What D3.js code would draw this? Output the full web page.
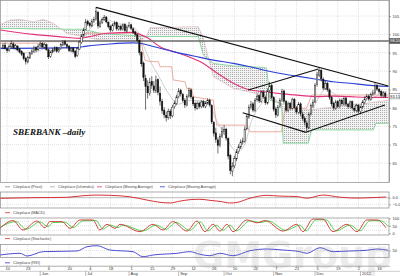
<!DOCTYPE html>
<html>
<head>
<meta charset="utf-8">
<script src="https://cdn.jsdelivr.net/npm/d3@7"></script>
<style>
body{margin:0;background:#fff;}
svg{display:block;font-family:"Liberation Sans",Arial,sans-serif;}
.axis text{font-size:4px;fill:#333;}
.axis line{stroke:#666;stroke-width:0.5;}
.grid{stroke:#c4c4c4;stroke-width:0.5;stroke-dasharray:1,1;}
.legend{font-size:3.8px;fill:#444;}
</style>
</head>
<body>
<script>

//svg size
var w = 400, h = 276;

//daily candles, one per trading day (index 0 = 10 May 2011)
var opens = [96.5,97.1,96.0,95.7,96.6,97.4,96.3,96.8,95.9,95.3,94.8,93.5,92.5,93.6,94.8,95.4,96.4,95.8,96.9,97.5,
96.5,97.2,95.8,94.0,95.2,95.7,96.4,95.3,96.1,97.1,98.0,97.2,96.8,95.5,96.3,95.4,94.2,96.0,97.8,99.8,
101.4,103.5,102.9,102.3,103.5,104.0,106.0,102.2,103.2,104.1,104.7,103.3,102.2,101.1,102.7,103.2,101.4,102.2,101.3,102.7,
100.9,102.1,102.6,101.5,100.7,99.9,98.3,95.0,92.2,88.0,85.9,83.9,87.2,86.0,84.6,87.7,84.0,81.7,79.4,78.0,
77.3,79.1,77.8,80.3,81.2,83.1,84.7,83.7,82.1,80.7,83.2,84.9,82.9,81.2,79.9,81.3,80.3,81.7,80.4,81.3,
82.1,80.6,76.0,73.2,71.3,69.9,72.3,73.5,74.2,71.6,67.0,62.8,64.2,66.1,68.1,69.3,70.7,70.9,74.3,77.5,
80.2,81.1,79.3,82.2,83.3,81.8,84.2,82.9,81.3,84.7,86.1,82.8,79.7,78.0,80.3,82.0,84.6,81.7,79.3,81.2,
79.9,82.3,80.0,78.8,81.1,78.3,77.2,75.9,74.5,78.3,80.5,81.6,86.3,88.9,90.2,87.8,85.3,86.7,84.9,82.8,
81.2,79.9,81.7,80.3,82.1,81.0,82.7,80.9,80.3,81.7,79.9,79.3,80.7,79.0,80.2,81.5,82.5,83.2,82.3,83.7,
84.0,86.1,85.0,84.5,83.3,84.0];
var highs = [97.6,97.8,96.5,97.3,98.3,97.9,97.4,97.1,96.3,95.7,95.1,93.9,94.2,95.3,96.0,96.9,96.8,97.4,98.1,97.9,
97.8,97.5,96.1,95.5,96.3,96.8,96.7,96.5,97.7,98.4,98.5,97.6,97.1,96.6,96.6,95.7,96.5,98.3,100.1,101.8,
104.2,104.0,103.4,104.2,104.8,107.4,106.4,103.8,104.6,105.3,105.0,103.6,102.5,103.0,103.7,103.5,102.6,102.6,103.0,103.1,
102.4,103.4,102.9,101.9,101.0,100.2,98.6,95.4,92.6,89.0,87.5,88.2,88.6,87.3,88.8,88.0,85.8,82.5,80.2,79.0,
79.8,79.7,80.8,82.0,83.6,85.4,85.2,84.1,82.6,83.7,85.5,85.2,83.3,81.7,81.8,81.7,82.1,82.2,81.8,82.6,
82.5,81.0,76.4,74.6,72.0,73.0,74.8,75.3,74.6,72.0,67.5,65.2,67.0,68.8,70.1,71.4,71.9,75.0,78.4,80.9,
81.9,81.6,82.7,83.9,83.7,84.8,84.9,83.3,85.3,87.1,86.5,83.2,80.2,80.8,82.7,85.2,85.0,82.2,81.7,81.6,
82.8,82.7,80.5,81.6,81.5,78.9,77.7,76.4,78.8,81.2,82.3,86.8,89.8,91.0,90.6,88.3,87.4,87.1,85.3,83.2,
81.7,82.2,82.1,82.5,82.6,83.1,83.0,81.4,82.0,82.0,80.4,81.1,81.0,80.6,82.1,83.1,83.8,83.7,84.2,84.9,
86.8,86.5,85.5,84.9,84.6,84.4];
var lows = [95.9,95.8,95.0,95.3,96.3,96.0,95.9,95.4,94.8,94.1,93.0,91.8,92.1,93.3,94.4,95.0,95.2,95.5,96.5,96.2,
96.1,95.5,93.3,93.6,94.8,95.3,95.0,95.0,95.8,96.8,96.9,96.2,95.2,95.1,94.8,93.5,93.9,95.7,97.5,99.4,
101.1,102.3,101.8,102.0,103.1,103.7,101.6,101.8,102.8,103.7,103.0,101.6,100.6,100.8,102.2,101.0,101.0,100.9,101.0,100.6,
100.5,101.7,101.1,100.1,99.4,97.8,94.3,91.2,87.3,79.5,82.5,83.3,85.2,84.0,84.0,83.4,80.6,78.4,77.2,76.3,
76.8,77.0,77.4,79.8,80.7,82.6,83.1,81.5,80.0,80.4,82.8,82.4,80.5,79.3,79.5,79.8,79.9,80.0,79.9,80.9,
80.3,75.6,72.2,70.5,67.6,69.3,71.8,72.7,71.1,66.0,61.9,61.4,63.6,65.5,67.5,68.8,70.0,70.5,73.9,77.0,
79.6,78.8,78.9,81.7,81.3,81.4,82.5,80.8,80.9,84.2,82.3,79.0,77.3,77.6,79.9,81.6,81.2,78.8,78.9,79.4,
79.5,79.6,78.3,78.4,77.8,76.5,75.2,73.4,74.2,77.9,80.0,81.3,85.8,88.3,87.2,84.8,84.9,84.4,82.2,80.4,
79.3,79.5,79.9,79.9,80.6,80.6,80.5,79.8,79.9,79.5,78.8,78.9,78.5,78.6,79.8,81.1,82.0,81.9,82.0,83.3,
83.6,84.6,83.8,82.9,82.8,82.7];
var closes = [97.0,96.2,95.6,96.8,97.5,96.4,96.9,95.8,95.2,94.6,93.4,92.6,93.8,94.9,95.5,96.3,95.7,96.8,97.4,96.6,
97.3,95.9,93.9,95.1,95.8,96.3,95.4,96.0,97.2,97.9,97.3,96.7,95.6,96.2,95.3,94.0,96.1,97.9,99.6,101.2,
103.4,102.8,102.4,103.6,104.1,106.2,102.3,103.1,104.0,104.6,103.4,102.1,101.2,102.6,103.1,101.5,102.1,101.4,102.6,101.0,
102.0,102.5,101.6,100.6,100.0,98.4,95.1,92.0,88.2,85.8,84.1,87.0,86.1,84.8,87.6,84.2,81.8,79.3,78.1,77.4,
79.0,77.9,80.2,81.3,83.0,84.6,83.8,82.0,80.8,83.1,84.8,83.0,81.1,80.0,81.2,80.4,81.6,80.5,81.2,82.0,
80.8,76.2,73.1,71.4,69.8,72.2,73.6,74.1,71.8,66.9,63.0,64.1,66.2,68.0,69.4,70.6,71.0,74.2,77.6,80.1,
81.0,79.4,82.1,83.2,81.9,84.1,83.0,81.4,84.6,86.0,82.9,79.6,78.1,80.2,82.1,84.5,81.8,79.4,81.1,80.0,
82.2,80.1,78.9,81.0,78.4,77.1,76.0,74.6,78.2,80.6,81.5,86.1,89.0,90.1,87.9,85.4,86.6,85.0,82.9,81.1,
80.0,81.6,80.4,82.0,81.1,82.6,81.0,80.4,81.6,80.0,79.4,80.6,79.1,80.1,81.6,82.4,83.1,82.4,83.6,84.1,
86.0,85.1,84.4,83.4,84.1,83.15];

//moving averages (read at a few days, smooth lines)
var blueMaDays = [-1.5,35.6,40.5,51.8,63.1,66.3,72.7,82.4,95.3,101.8,111.5,119.5,127.6,135.6,143.7,151.8,159.8,167.9,176,186.5];
var blueMaVals = [96.2,96.4,96.8,97.4,97.7,97.6,96.7,95.3,93.75,93.0,92.1,91.2,90.1,89.2,88.5,87.8,87.1,86.7,86.2,85.8];
var pinkMaDays = [-1.5,14.7,30.8,37.3,42.1,50.2,63.1,66.3,69.5,76,85.6,95.3,105,111.5,118.7,127.6,135.6,143.7,151.8,159.8,167.9,176,186.5];
var pinkMaVals = [101.2,100.0,99.2,98.9,99.4,100.3,100.55,100.0,99.2,96.65,94.8,92.6,88.95,86.7,85.0,84.3,83.8,83.4,83.05,83.2,83.05,82.85,82.85];

//ichimoku cloud spans
var cloudDays = [-1.5,3.4,8.2,14.7,19.5,24.4,30.8,38.9,46.9,66.3,69.5,71.1,94.5,96.9,101.8,111.5,126,127.6,129.2,134.8,135.6,147.7,149.4,160,176,179.2,180.5,186.5];
var spanA = [101.6,101.6,101.6,101.5,101.5,101.5,101.4,101.4,100.3,99.5,99.4,99.4,99.4,94.4,92.1,91.4,91.0,90.8,82.1,81.2,70.4,70.4,74.0,74.0,74.0,74.0,75.8,75.8];
var spanB = [102.6,103.9,104.1,103.4,104.1,103.0,100.3,99.4,98.5,98.0,99.5,101.8,102.1,99.0,88.5,85.3,83.5,83.3,83.0,80.5,80.3,79.5,79.4,80.3,81.2,81.5,81.6,82.1];
var kijunDays = [-1.5,20,21,38,39,63.1,66.3,68.7,71.1,75.2,76,81.6,82.4,88.1,88.9,91.3,92.1,101.8,103.4,117.9,119.5,134.8,136.5,146.9,149.4,186.5];
var kijunVals = [97.6,97.6,98.0,98.0,100.3,100.3,99.4,93.0,92.6,92.6,91.2,91.2,87.6,87.1,85.3,85.3,83.0,82.1,75.3,75.3,73.5,73.5,79.9,79.9,83.5,83.5];
var tenkanDays = [-1.5,5,10,15,20,25,30,35,40,45,50,55,60,65,68,71,75,80,85,90,95,100,103,106,110,113,117,120,125,130,135,140,145,148,152,156,160,165,170,175,180,186];
var tenkanVals = [96.5,96,95,95,96,95.5,96.5,95.5,100,103,104,103,102.5,101,97,93,89,84,81,82,82,81,77,74,70,68,70,76,81,83,81,81,79,78,82,85,84,81.5,81,81,83,84.5];

//trend lines: [day1, price1, day2, price2]
var trendLines = [[45,107.35,186.5,85.95],[118.7,84.85,152.6,90.57],[116,78.7,146.6,73.34],[146.6,73.34,184.8,80.78]];
var resistance = 98.2;

//lower panels
var macdDays = [-1.45,14.5,31,38.7,45.5,51.8,61.4,69.7,76,80.8,85.6,90.5,95.3,100.1,105,109.8,113.2,119.5,127.7,134,142.2,147.1,154.8,163,171.3,177.6,185.3];
var macdVals = [-0.5,0,0.3,1.5,2.0,1.8,0.7,-1.8,-3.5,-4,-2.6,-1.5,-1.2,-2,-2.8,-4,-3.6,-0.4,1.8,1.2,0.9,-0.4,2.0,0.4,-0.3,0,0.5];
var stochKDays = [-1.45,4.8,9.7,16.4,20.3,22.7,28.5,32.4,37.3,43.5,46.9,50.3,54.2,56.6,66.3,72.6,77.4,82.2,89,93.9,97.7,101.6,105,108.4,111.3,118,122.9,126.8,135.5,142.2,145.1,150,154.8,159.7,166.4,171.3,176.1,181,185.3];
var stochKVals = [33,85,22,82,37,78,78,33,89,89,22,60,33,60,11,60,22,78,15,82,11,60,15,60,11,89,70,85,15,60,11,95,95,11,60,11,89,89,37];
var stochDDays = [-1.45,6.3,11.2,17.9,21.8,24.2,30,33.9,38.8,45,48.4,51.8,55.7,58.1,67.8,74.1,78.9,83.7,90.5,95.4,99.2,103.1,106.5,109.9,112.8,119.5,124.4,128.3,137,143.7,146.6,151.5,156.3,161.2,167.9,172.8,177.6,182.5,186.5];
var stochDVals = [40,78,28,76,44,72,74,38,83,85,28,55,38,55,16,55,27,72,20,76,16,55,20,55,16,83,72,82,20,55,16,90,90,16,55,16,84,84,45];
var rsiDays = [-1.45,8.2,11.6,19.4,35.8,40.6,45.5,51.8,62.9,67.7,72.6,84.2,90.5,95.3,100.1,105,111.3,119.5,127.7,135.5,143.7,147.1,153.4,159.7,167.9,176.1,181,186.3];
var rsiVals = [30.7,38,26.4,45,47.9,66,70.6,52,45,23.4,30.7,38,45,33.7,27.7,38,27.7,49,56.4,52,45,38,62,45,47.9,51,56.4,51];

//date axis
var tickDays = [2,12,22,32,42,52,62,72,82,92,102,112,122,132,142,152,162,172,182];
var tickLabels = ["10","23","6","20","4","18","1","15","29","12","26","10","24","7","21","5","19","2","16"];
var monthDays = [18,40,61,85,107,131,151,173];
var monthLabels = ["Jun","Jul","Aug","Sep","Oct","Nov","Dec","2012"];

window.onload = function(){

    var svg = d3.select("body")
        .append("svg")
        .attr("width", w)
        .attr("height", h);

    var defs = svg.append("defs");

    //dotted fill for the cloud
    var pat = defs.append("pattern")
        .attr("id", "dots")
        .attr("width", 2)
        .attr("height", 2)
        .attr("patternUnits", "userSpaceOnUse");
    pat.append("rect").attr("width", 2).attr("height", 2).attr("fill", "#f3f3f3");
    pat.append("rect").attr("width", 0.9).attr("height", 0.9).attr("fill", "#9a9a9a");

    var plotR = 389;
    var x = d3.scaleLinear()
        .domain([-1.45, 186.8])
        .range([0, plotR]);

    //panels: top and bottom of each box
    var panels = {
        main: [0, 182.5],
        macd: [191.5, 208],
        stoch: [217.5, 235],
        rsi: [244, 257.5]
    };

    var y = d3.scaleLinear().domain([65, 105]).range([163, 16]);
    var yMacd = d3.scaleLinear().domain([0, -5]).range([197.7, 204.3]);
    var yStoch = d3.scaleLinear().domain([0, 100]).range([233.3, 218.3]);
    var yRsi = d3.scaleLinear().domain([20, 80]).range([257.5, 243.5]);

    //draws box, clip and vertical grid for a panel
    function makePanel(name){
        var p = panels[name];
        defs.append("clipPath").attr("id", "clip-" + name)
            .append("rect")
            .attr("x", 0).attr("y", p[0])
            .attr("width", plotR).attr("height", p[1] - p[0]);
        svg.append("g").selectAll("line")
            .data(tickDays)
            .enter()
            .append("line")
            .attr("class", "grid")
            .attr("x1", function(d){ return x(d); })
            .attr("x2", function(d){ return x(d); })
            .attr("y1", p[0])
            .attr("y2", p[1]);
        var g = svg.append("g").attr("clip-path", "url(#clip-" + name + ")");
        return g;
    }

    function frame(name){
        var p = panels[name];
        svg.append("rect")
            .attr("x", 0.5).attr("y", p[0] + 0.5)
            .attr("width", plotR - 0.5).attr("height", p[1] - p[0] - 0.5)
            .attr("fill", "none")
            .attr("stroke", "#8a8a8a")
            .attr("stroke-width", 0.7);
    }

    function knotLine(g, days, vals, yScale, color, width, curve){
        var pts = days.map(function(d, i){ return [d, vals[i]]; });
        g.append("path")
            .datum(pts)
            .attr("fill", "none")
            .attr("stroke", color)
            .attr("stroke-width", width)
            .attr("d", d3.line()
                .x(function(d){ return x(d[0]); })
                .y(function(d){ return yScale(d[1]); })
                .curve(curve));
    }

    //---------------- main panel ----------------
    var main = makePanel("main");

    //horizontal grid every 5
    main.selectAll(".hgrid")
        .data(d3.range(65, 106, 5))
        .enter()
        .append("line")
        .attr("class", "grid")
        .attr("x1", 0).attr("x2", plotR)
        .attr("y1", function(d){ return y(d); })
        .attr("y2", function(d){ return y(d); });

    //cloud
    var cloud = cloudDays.map(function(d, i){ return [d, spanA[i], spanB[i]]; });
    main.append("path")
        .datum(cloud)
        .attr("fill", "url(#dots)")
        .attr("d", d3.area()
            .x(function(d){ return x(d[0]); })
            .y0(function(d){ return y(d[1]); })
            .y1(function(d){ return y(d[2]); }));
    knotLine(main, cloudDays, spanA, y, "#6fd08a", 0.8, d3.curveLinear);
    knotLine(main, cloudDays, spanB, y, "#d8b0b0", 0.6, d3.curveLinear);
    knotLine(main, kijunDays, kijunVals, y, "#e58a78", 0.7, d3.curveLinear);
    knotLine(main, tenkanDays, tenkanVals, y, "#b0b0b0", 0.6, d3.curveMonotoneX);

    //moving averages
    knotLine(main, pinkMaDays, pinkMaVals, y, "#e3327c", 1.1, d3.curveMonotoneX);
    knotLine(main, blueMaDays, blueMaVals, y, "#2b3fd6", 1.1, d3.curveMonotoneX);

    //resistance line
    main.append("line")
        .attr("x1", 0).attr("x2", plotR)
        .attr("y1", y(resistance)).attr("y2", y(resistance))
        .attr("stroke", "#6a6a6a")
        .attr("stroke-width", 1.5);

    //candles
    var candles = closes.map(function(c, i){
        return {i: i, o: opens[i], h: highs[i], l: lows[i], c: c};
    });
    main.selectAll(".wick")
        .data(candles)
        .enter()
        .append("line")
        .attr("class", "wick")
        .attr("x1", function(d){ return x(d.i); })
        .attr("x2", function(d){ return x(d.i); })
        .attr("y1", function(d){ return y(d.h); })
        .attr("y2", function(d){ return y(d.l); })
        .attr("stroke", "#111")
        .attr("stroke-width", 0.6);
    main.selectAll(".body")
        .data(candles)
        .enter()
        .append("rect")
        .attr("class", "body")
        .attr("x", function(d){ return x(d.i) - 0.7; })
        .attr("width", 1.4)
        .attr("y", function(d){ return y(Math.max(d.o, d.c)); })
        .attr("height", function(d){ return Math.max(0.5, Math.abs(y(d.o) - y(d.c))); })
        .attr("fill", function(d){ return d.c >= d.o ? "#fff" : "#111"; })
        .attr("stroke", "#111")
        .attr("stroke-width", 0.45);

    //trend lines
    main.selectAll(".trend")
        .data(trendLines)
        .enter()
        .append("line")
        .attr("x1", function(d){ return x(d[0]); })
        .attr("y1", function(d){ return y(d[1]); })
        .attr("x2", function(d){ return x(d[2]); })
        .attr("y2", function(d){ return y(d[3]); })
        .attr("stroke", "#111")
        .attr("stroke-width", 1.1);

    //title
    svg.append("text")
        .attr("x", 13)
        .attr("y", 134.5)
        .style("font-family", "'Liberation Serif','Times New Roman',serif")
        .style("font-weight", "bold")
        .style("font-style", "italic")
        .style("font-size", "9px")
        .attr("fill", "#111")
        .text("SBERBANK \u2013daily");

    frame("main");
    svg.append("line")
        .attr("x1", plotR + 0.5).attr("x2", plotR + 0.5)
        .attr("y1", 0).attr("y2", panels.main[1])
        .attr("stroke", "#777").attr("stroke-width", 0.6);

    var yAxis = svg.append("g")
        .attr("class", "axis")
        .attr("transform", "translate(" + plotR + ",0)")
        .call(d3.axisRight(y).tickValues(d3.range(65, 106, 5)).tickSize(2).tickPadding(1.5));
    yAxis.select(".domain").remove();

    //price tags
    function tag(price, label, fill, textColor){
        svg.append("rect")
            .attr("x", plotR + 0.5).attr("y", y(price) - 2.6)
            .attr("width", 10.5).attr("height", 5.2)
            .attr("fill", fill).attr("stroke", "#444").attr("stroke-width", 0.4);
        svg.append("text")
            .attr("x", plotR + 1.3).attr("y", y(price) + 1.4)
            .style("font-size", "3.8px")
            .attr("fill", textColor)
            .text(label);
    }
    tag(resistance, "98.20", "#5a5a5a", "#fff");
    tag(closes[closes.length - 1], "83.15", "#fff", "#222");

    //legend helper
    function legend(yPos, items){
        items.forEach(function(it){
            svg.append("line")
                .attr("x1", it[0]).attr("x2", it[0] + 5)
                .attr("y1", yPos).attr("y2", yPos)
                .attr("stroke", it[1]).attr("stroke-width", 0.8);
            svg.append("text")
                .attr("class", "legend")
                .attr("x", it[0] + 8).attr("y", yPos + 1.3)
                .text(it[2]);
        });
    }
    legend(186.8, [[5, "#888", "Сбербанк (Price)"], [50, "#aaa", "Сбербанк (Ichimoku)"],
        [97, "#e3327c", "Сбербанк (Moving Average)"], [160, "#2b3fd6", "Сбербанк (Moving Average)"]]);

    //---------------- MACD ----------------
    var macd = makePanel("macd");
    macd.append("line").attr("x1", 0).attr("x2", plotR)
        .attr("y1", yMacd(0)).attr("y2", yMacd(0))
        .attr("stroke", "#777").attr("stroke-width", 0.5);
    macd.append("line").attr("class", "grid").attr("x1", 0).attr("x2", plotR)
        .attr("y1", yMacd(-5)).attr("y2", yMacd(-5));
    knotLine(macd, macdDays, macdVals, yMacd, "#d83236", 1, d3.curveMonotoneX);
    frame("macd");
    svg.append("g").attr("class", "axis")
        .attr("transform", "translate(" + plotR + ",0)")
        .call(d3.axisRight(yMacd).tickValues([0, -5]).tickSize(2).tickPadding(1.5))
        .select(".domain").remove();
    legend(212.7, [[5, "#d83236", "Сбербанк (MACD)"]]);

    //---------------- Stochastic ----------------
    var stoch = makePanel("stoch");
    stoch.selectAll(".sg")
        .data([20, 50, 80])
        .enter()
        .append("line")
        .attr("class", "grid")
        .attr("x1", 0).attr("x2", plotR)
        .attr("y1", function(d){ return yStoch(d); })
        .attr("y2", function(d){ return yStoch(d); });
    knotLine(stoch, stochDDays, stochDVals, yStoch, "#3fcf3f", 0.9, d3.curveMonotoneX);
    knotLine(stoch, stochKDays, stochKVals, yStoch, "#cf3030", 0.9, d3.curveMonotoneX);
    frame("stoch");
    svg.append("g").attr("class", "axis")
        .attr("transform", "translate(" + plotR + ",0)")
        .call(d3.axisRight(yStoch).tickValues([0, 50, 100]).tickSize(2).tickPadding(1.5))
        .select(".domain").remove();
    legend(238.6, [[5, "#cf3030", "Сбербанк (Stochastic)"]]);

    //---------------- RSI ----------------
    var rsi = makePanel("rsi");
    rsi.append("line").attr("class", "grid").attr("x1", 0).attr("x2", plotR)
        .attr("y1", yRsi(50)).attr("y2", yRsi(50));
    knotLine(rsi, rsiDays, rsiVals, yRsi, "#3a3ad0", 0.9, d3.curveMonotoneX);
    frame("rsi");
    svg.append("g").attr("class", "axis")
        .attr("transform", "translate(" + plotR + ",0)")
        .call(d3.axisRight(yRsi).tickValues([50]).tickSize(2).tickPadding(1.5))
        .select(".domain").remove();
    legend(262.8, [[5, "#3a3ad0", "Сбербанк (RSI)"]]);

    //---------------- date axis ----------------
    var xAxis = svg.append("g")
        .attr("class", "axis")
        .attr("transform", "translate(0,265.7)")
        .call(d3.axisBottom(x).tickValues(tickDays)
            .tickFormat(function(d, i){ return tickLabels[i]; })
            .tickSize(1).tickPadding(0.4));
    xAxis.select(".domain").attr("stroke", "#777").attr("stroke-width", 0.6);

    svg.append("line")
        .attr("x1", 0).attr("x2", w)
        .attr("y1", 271.3).attr("y2", 271.3)
        .attr("stroke", "#999").attr("stroke-width", 0.5);

    svg.selectAll(".mline")
        .data(monthDays)
        .enter()
        .append("line")
        .attr("x1", function(d){ return x(d); })
        .attr("x2", function(d){ return x(d); })
        .attr("y1", 271.3).attr("y2", 276)
        .attr("stroke", "#777").attr("stroke-width", 0.5);

    svg.selectAll(".mlabel")
        .data(monthDays)
        .enter()
        .append("text")
        .attr("x", function(d){ return x(d) + 1.5; })
        .attr("y", 275.4)
        .style("font-size", "4px")
        .attr("fill", "#333")
        .text(function(d, i){ return monthLabels[i]; });

    //watermark
    svg.append("text")
        .attr("x", 193)
        .attr("y", 268)
        .style("font-family", "'DejaVu Sans',sans-serif")
        .style("font-size", "38px")
        .style("font-weight", "bold")
        .attr("fill", "#9a9a9a")
        .attr("opacity", 0.18)
        .text("GMGroup");
};
</script>
</body>
</html>
